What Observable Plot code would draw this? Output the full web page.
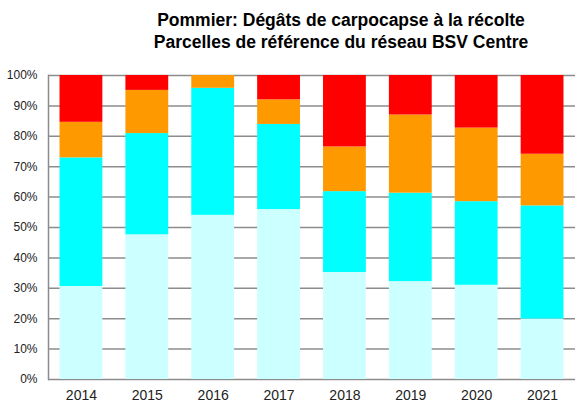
<!DOCTYPE html>
<html>
<head>
<meta charset="utf-8">
<script src="https://cdn.jsdelivr.net/npm/d3@7"></script>
<script src="https://cdn.jsdelivr.net/npm/@observablehq/plot@0.6"></script>
<style>
  body { margin: 0; background: #fff; font-family: "Liberation Sans", Arial, sans-serif; }
  #wrap { position: relative; width: 575px; height: 403px; overflow: hidden; }
  #title { position: relative; width: 575px; height: 60px; }
  #title div { position: absolute; left: 341px; top: 10px; transform: translateX(-50%);
    white-space: nowrap; text-align: center; font-weight: bold; font-size: 17.5px; line-height: 21.5px; color: #000; }
</style>
</head>
<body>
<div id="wrap">
  <div id="title"><div>Pommier: Dégâts de carpocapse à la récolte<br>Parcelles de référence du réseau BSV Centre</div></div>
  <div id="chart"></div>
</div>
<script>
const years = ["2014", "2015", "2016", "2017", "2018", "2019", "2020", "2021"];
const classes = ["Classe 1", "Classe 2", "Classe 3", "Classe 4"];
const colors = ["#CCFFFF", "#00FFFF", "#FF9900", "#FF0000"];
const classe1 = [30.6, 47.6, 54.0, 55.9, 35.2, 32.2, 31.0, 19.9];
const classe2 = [42.3, 33.3, 41.8, 28.0, 26.6, 29.1, 27.5, 37.2];
const classe3 = [11.7, 14.2, 4.2, 8.1, 14.7, 25.7, 24.2, 17.0];
const classe4 = [15.4, 4.9, 0.0, 8.0, 23.5, 13.0, 17.3, 25.9];
const yTicks = [0, 10, 20, 30, 40, 50, 60, 70, 80, 90, 100];

const series = [classe1, classe2, classe3, classe4];
const data = [];
years.forEach((yr, i) => {
  series.forEach((s, j) => data.push({year: yr, classe: classes[j], value: s[i]}));
});

const plot = Plot.plot({
  width: 575,
  height: 343,
  marginTop: 15,
  marginBottom: 24,
  marginLeft: 48,
  marginRight: 0,
  style: {fontFamily: "'Liberation Sans', Arial, sans-serif", color: "#222", background: "#fff", overflow: "visible"},
  x: {domain: years, paddingInner: 0.35, paddingOuter: 0.175, round: false, label: null, tickSize: 0, tickPadding: 11},
  y: {domain: [0, 100], ticks: yTicks, tickFormat: d => d + "%", label: null, tickSize: 0, tickPadding: 11},
  color: {domain: classes, range: colors},
  marks: [
    Plot.ruleY(yTicks, {stroke: "#8c8c8c", strokeWidth: 1.5, strokeOpacity: 1}),
    Plot.frame({anchor: "left", stroke: "#8c8c8c", strokeWidth: 1.5, strokeOpacity: 1}),
    Plot.barY(data, {x: "year", y: "value", fill: "classe", order: classes}),
  ]
});
document.getElementById("chart").appendChild(plot);

plot.querySelectorAll("[aria-label='x-axis tick label'] text, [aria-label='x-axis'] text").forEach(t => t.setAttribute("font-size", "14"));
plot.querySelectorAll("[aria-label='y-axis tick label'] text, [aria-label='y-axis'] text").forEach(t => t.setAttribute("font-size", "12"));
</script>
</body>
</html>
